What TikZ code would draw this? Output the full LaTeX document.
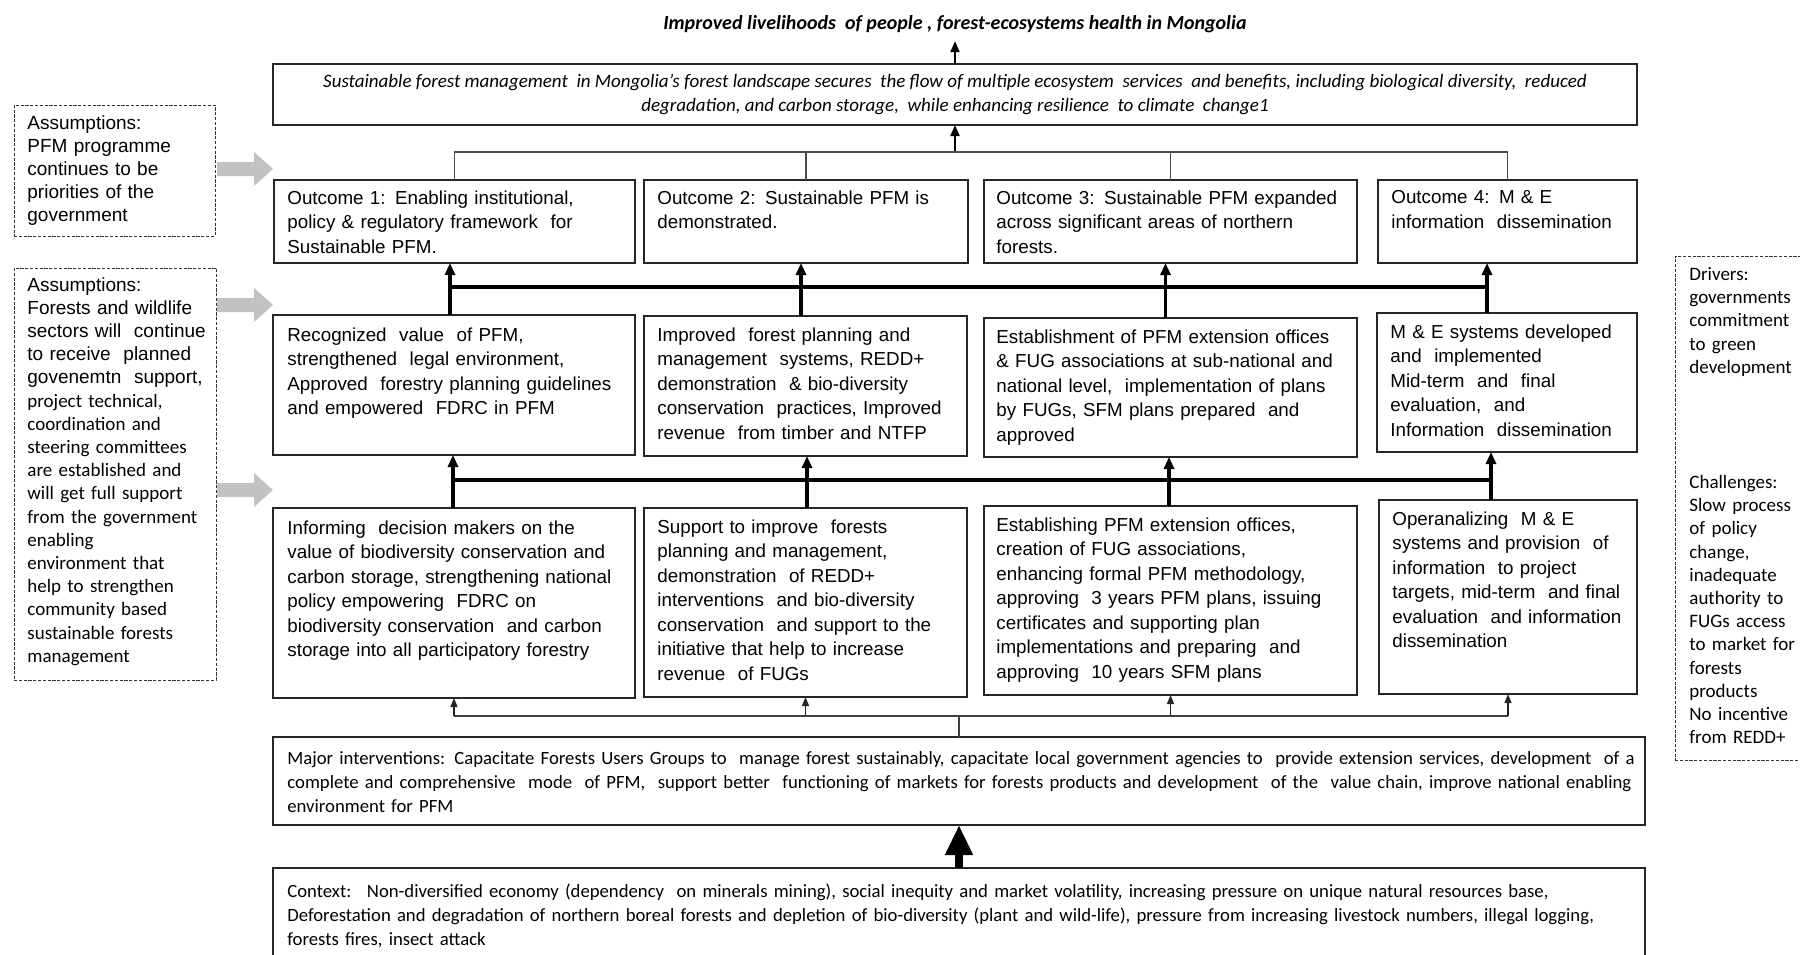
\documentclass[tikz,border=0pt]{standalone}
\usepackage{fontspec}
\setmainfont{Liberation Sans}
\newfontfamily\calfont{Carlito}
\usetikzlibrary{arrows.meta,calc}
\newcommand\mkbox[6]{\node[#1, minimum width={(#5-#3)*0.5pt}, minimum height={(#6-#4)*0.5pt}] (#2) at (#3,#4) {};}
\begin{document}
\begin{tikzpicture}[x=0.5pt,y=-0.5pt,
  box/.style={draw=black!85, line width=0.75pt, inner sep=0pt, outer sep=0pt, anchor=north west},
  dbox/.style={draw=black!80, line width=0.5pt, dash pattern=on 1.6pt off 0.8pt, inner sep=0pt, outer sep=0pt, anchor=north west},
  txt/.style={inner sep=0pt, anchor=north west, align=left, text width=300pt, font=\fontsize{9.4}{12.25}\selectfont},
  caltxt/.style={txt, text width=800pt, font=\calfont\fontsize{9.35}{12.15}\selectfont},
  goaltxt/.style={inner sep=0pt, anchor=north, align=center, font=\calfont\itshape\fontsize{9.5}{12}\selectfont},
  tree/.style={draw=black!70, line width=0.9pt},
  treearrow/.style={draw=black, line width=1pt, -{Triangle[length=5.5pt,width=4.5pt]}},
  bus/.style={draw=black, line width=2.2pt},
  busarrow/.style={draw=black, line width=1.6pt, -{Triangle[length=6pt,width=5pt]}},
  thinline/.style={draw=black!75, line width=0.7pt},
  thinarrow/.style={draw=black!85, line width=0.7pt, -{Triangle[length=4.5pt,width=3.5pt]}},
  bigarrow/.style={draw=black, line width=4pt, -{Triangle[length=15pt,width=13pt]}},
  grayarrow/.style={fill=black!24}
]
\useasboundingbox (0,0) rectangle (1800,954);
\clip (0,0) rectangle (1800,954);

% title
\node[inner sep=0pt, font=\calfont\bfseries\itshape\fontsize{10}{12}\selectfont] (title) at (955,24) {Improved livelihoods~ of people , forest-ecosystems health in Mongolia};

% boxes
\mkbox{box}{goal}{273}{64}{1637}{125}
\mkbox{box}{o1}{274}{180}{635}{263}
\mkbox{box}{o2}{644}{180}{968}{263}
\mkbox{box}{o3}{984}{180}{1357}{263}
\mkbox{box}{o4}{1378}{180}{1637}{263}
\mkbox{box}{b1}{273}{315}{635}{455}
\mkbox{box}{b2}{644}{316}{967}{456}
\mkbox{box}{b3}{984}{318}{1357}{457}
\mkbox{box}{b4}{1377}{313}{1637}{452}
\mkbox{box}{c1}{273}{508}{635}{698}
\mkbox{box}{c2}{644}{508}{967}{697}
\mkbox{box}{c3}{984}{506}{1357}{695}
\mkbox{box}{c4}{1379}{500}{1637}{694}
\mkbox{box}{iv}{273}{737}{1645}{825}
\mkbox{box}{ctx}{273}{868}{1645}{968}
\mkbox{dbox}{as1}{14}{105}{215}{236}
\mkbox{dbox}{as2}{14}{268}{216}{680}
\mkbox{dbox}{rb}{1675}{256}{1815}{760}

% gray arrows
\foreach \yy in {169,305,490}{
  \fill[grayarrow] (217,{\yy-7}) -- (254,{\yy-7}) -- (254,{\yy-17}) -- (273,\yy) -- (254,{\yy+17}) -- (254,{\yy+7}) -- (217,{\yy+7}) -- cycle;
}

% texts
\node[goaltxt] at ($(goal.north)+(0,10)$)
  {Sustainable forest management~ in Mongolia’s forest landscape secures~ the flow of multiple ecosystem~ services~ and benefits, including biological diversity,~ reduced\\
   degradation, and carbon storage,~ while enhancing resilience~ to climate~ change1};

\node[txt] at ($(o1.north west)+(13,10)$) {Outcome 1: Enabling institutional,\\policy \& regulatory framework~ for\\Sustainable PFM.};
\node[txt] at ($(o2.north west)+(13,10)$) {Outcome 2: Sustainable PFM is\\demonstrated.};
\node[txt] at ($(o3.north west)+(12,10)$) {Outcome 3: Sustainable PFM expanded\\across significant areas of northern\\forests.};
\node[txt] at ($(o4.north west)+(13,10)$) {Outcome 4: M \& E\\information~ dissemination};

\node[txt] at ($(b1.north west)+(14,12)$) {Recognized~ value~ of PFM,\\strengthened~ legal environment,\\Approved~ forestry planning guidelines\\and empowered~ FDRC in PFM};
\node[txt] at ($(b2.north west)+(13,11)$) {Improved~ forest planning and\\management~ systems, REDD+\\demonstration~ \& bio-diversity\\conservation~ practices, Improved\\revenue~ from timber and NTFP};
\node[txt] at ($(b3.north west)+(12,11)$) {Establishment of PFM extension offices\\\& FUG associations at sub-national and\\national level,~ implementation of plans\\by FUGs, SFM plans prepared~ and\\approved};
\node[txt] at ($(b4.north west)+(13,11)$) {M \& E systems developed\\and~ implemented\\Mid-term~ and~ final\\evaluation,~ and\\Information~ dissemination};

\node[txt] at ($(c1.north west)+(14,12)$) {Informing~ decision makers on the\\value of biodiversity conservation and\\carbon storage, strengthening national\\policy empowering~ FDRC on\\biodiversity conservation~ and carbon\\storage into all participatory forestry};
\node[txt] at ($(c2.north west)+(13,11)$) {Support to improve~ forests\\planning and management,\\demonstration~ of REDD+\\interventions~ and bio-diversity\\conservation~ and support to the\\initiative that help to increase\\revenue~ of FUGs};
\node[txt] at ($(c3.north west)+(12,11)$) {Establishing PFM extension offices,\\creation of FUG associations,\\enhancing formal PFM methodology,\\approving~ 3 years PFM plans, issuing\\certificates and supporting plan\\implementations and preparing~ and\\approving~ 10 years SFM plans};
\node[txt] at ($(c4.north west)+(13,11)$) {Operanalizing~ M \& E\\systems and provision~ of\\information~ to project\\targets, mid-term~ and final\\evaluation~ and information\\dissemination};

\node[caltxt] at ($(iv.north west)+(14,14)$) {Major interventions: Capacitate Forests Users Groups to~ manage forest sustainably, capacitate local government agencies to~ provide extension services, development~ of a\\complete and comprehensive~ mode~ of PFM,~ support better~ functioning of markets for forests products and development~ of the~ value chain, improve national enabling\\environment for PFM};
\node[caltxt] at ($(ctx.north west)+(14,15)$) {Context:~ Non-diversified economy (dependency~ on minerals mining), social inequity and market volatility, increasing pressure on unique natural resources base,\\Deforestation and degradation of northern boreal forests and depletion of bio-diversity (plant and wild-life), pressure from increasing livestock numbers, illegal logging,\\forests fires, insect attack};

\node[txt, font=\fontsize{9.5}{11.5}\selectfont] at ($(as1.north west)+(13,10)$) {Assumptions:\\PFM programme\\continues to be\\priorities of the\\government};
\node[txt, font=\fontsize{9.5}{11.6}\selectfont] at ($(as2.north west)+(13,9)$) {Assumptions:\\Forests and wildlife\\sectors will~ continue\\to receive~ planned\\govenemtn~ support,\\\calfont project technical,\\coordination and\\steering committees\\are established and\\will get full support\\from the government\\enabling\\environment that\\help to strengthen\\community based\\sustainable forests\\management};
\node[txt, font=\calfont\fontsize{9.5}{11.6}\selectfont] at ($(rb.north west)+(14,11)$) {Drivers:\\governments\\commitment\\to green\\development\\[46pt]Challenges:\\Slow process\\of policy\\change,\\inadequate\\authority to\\FUGs access\\to market for\\forests\\products\\No incentive\\from REDD+};

% connectors
\draw[treearrow, shorten >=4pt] (goal.north) -- (title.south);
\coordinate (tj) at ($(goal.south)+(0,27)$);
\draw[treearrow] (tj) -- (goal.south);
\draw[tree] (o1.north) |- (tj) -| (o4.north);
\draw[tree] (o2.north) -- (o2.north |- tj);
\draw[tree] (o3.north) -- (o3.north |- tj);

\coordinate (bus1) at ($(o1.south)+(0,24)$);
\path (b1.north) ++(-4,0) coordinate (b1u);
\path (b2.north) ++(-4.5,0) coordinate (b2u);
\path (b3.north) ++(-5,0) coordinate (b3u);
\path (b4.north) ++(-20,0) coordinate (b4u);
\draw[bus] (b1u |- bus1) -- (b4u |- bus1);
\foreach \u/\o in {b1u/o1,b2u/o2,b3u/o3,b4u/o4}{
  \draw[busarrow] (\u) -- (\u |- \o.south);
}

\coordinate (bus2) at ($(b1.south)+(0,25)$);
\path (c1.north) ++(-1,0) coordinate (c1u);
\path (c2.north) ++(1.5,0) coordinate (c2u);
\path (c3.north) ++(-1.5,0) coordinate (c3u);
\path (c4.north) ++(-17,0) coordinate (c4u);
\draw[bus] (c1u |- bus2) -- (c4u |- bus2);
\foreach \u/\o in {c1u/b1,c2u/b2,c3u/b3,c4u/b4}{
  \draw[busarrow] (\u) -- (\u |- \o.south);
}

\coordinate (bj) at ($(iv.north)+(0,-21)$);
\draw[thinline] (c1.south |- bj) -- (c4.south |- bj);
\draw[thinline] (iv.north) -- (bj);
\foreach \c in {c1,c2,c3,c4}{
  \draw[thinarrow] (\c.south |- bj) -- (\c.south);
}

\draw[bigarrow] (ctx.north) -- (iv.south);
\end{tikzpicture}
\end{document}
